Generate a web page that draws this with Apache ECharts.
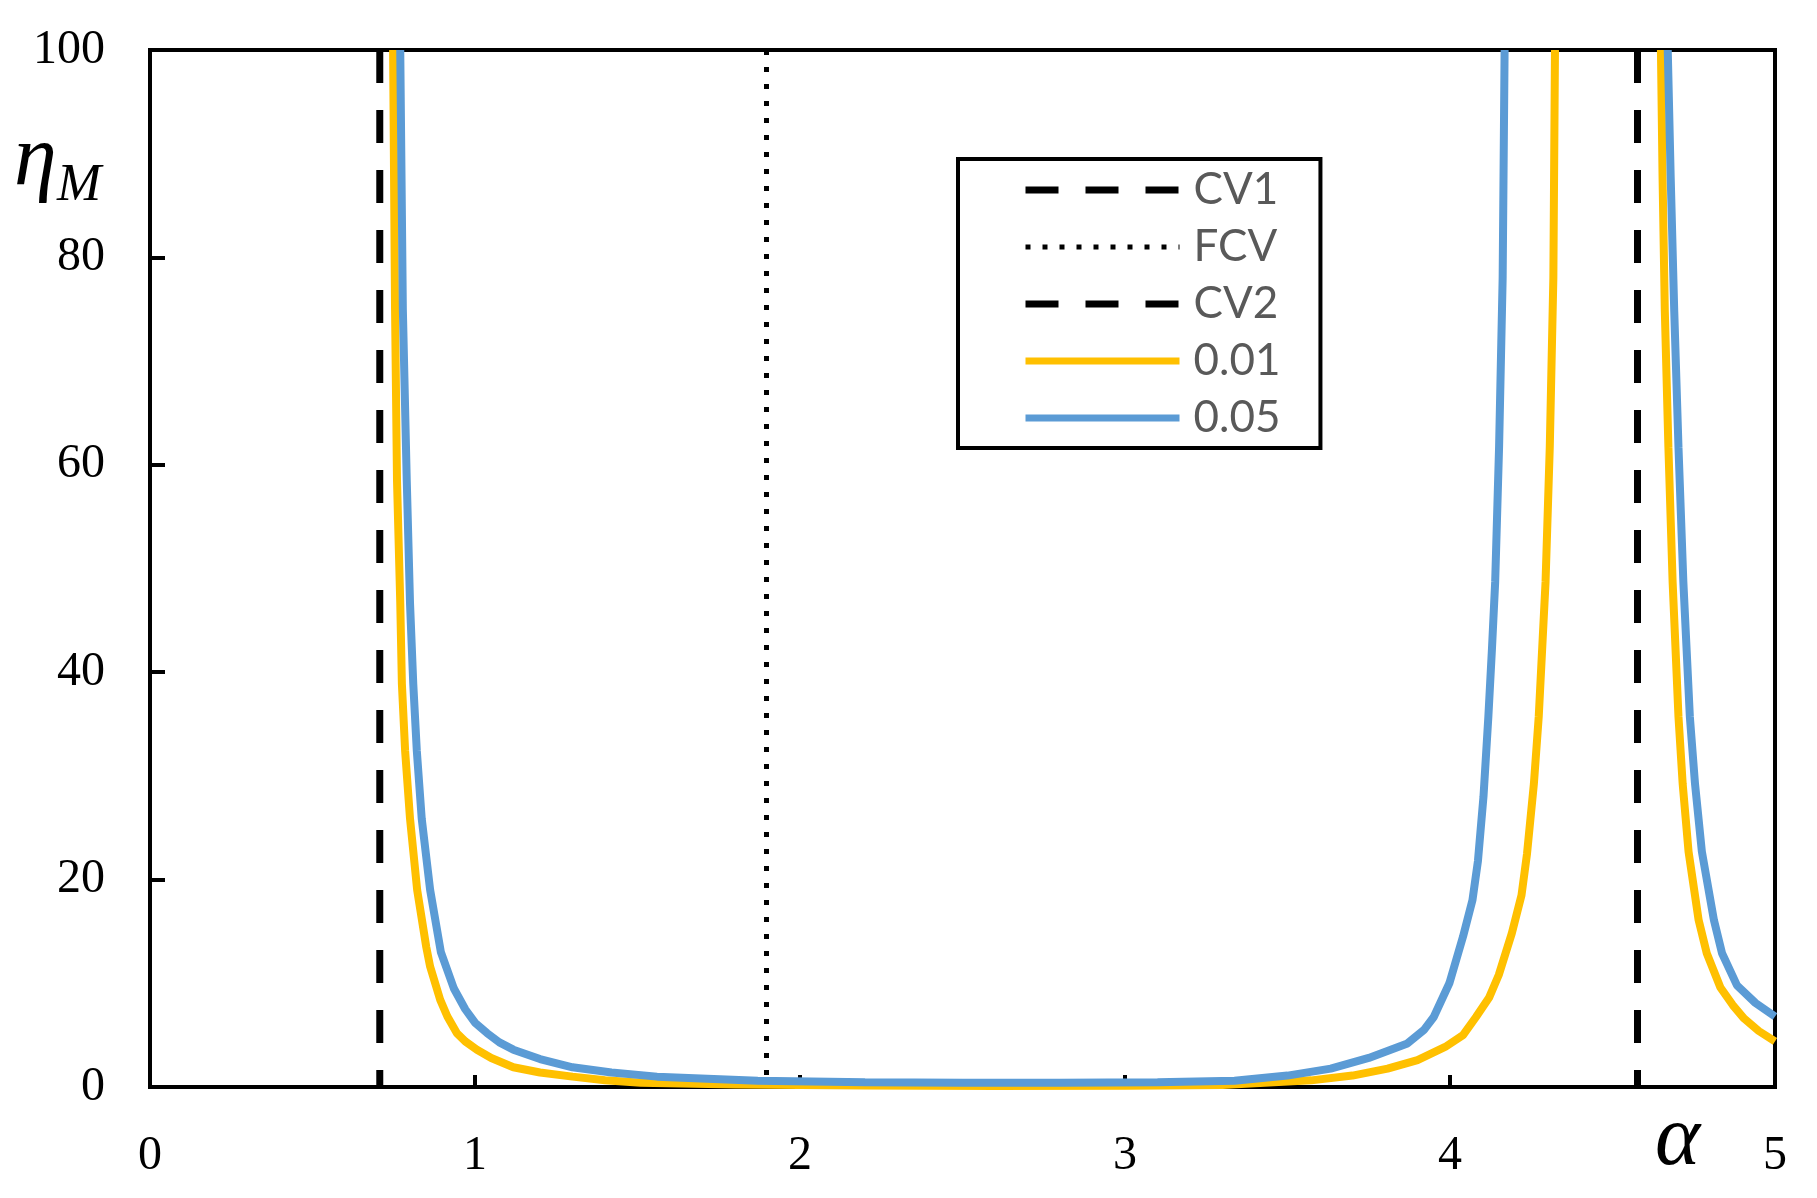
<!DOCTYPE html>
<html>
<head>
<meta charset="utf-8">
<script src="https://cdn.jsdelivr.net/npm/echarts@6/dist/echarts.min.js"></script>
<style>
  html, body { margin: 0; padding: 0; background: #fff; }
  #main { width: 1817px; height: 1198px; }
</style>
</head>
<body>
<div id="main"></div>
<script>
// critical values of alpha (vertical reference lines)
var cv1 = 0.707;
var fcv = 1.897;
var cv2 = 4.577;

// eta_M for 0.01, null breaks the curve at the pole
var eta001 = [
  [0.748, 100], [0.754, 75], [0.760, 58.5], [0.770, 46.7], [0.775, 38.9],
  [0.785, 32.4], [0.800, 25.9], [0.822, 19], [0.850, 13.5], [0.862, 11.6],
  [0.893, 8.4], [0.915, 6.8], [0.944, 5.2], [0.97, 4.4], [1.006, 3.6],
  [1.05, 2.8], [1.118, 1.9], [1.2, 1.4], [1.30, 1.0], [1.4, 0.65],
  [1.51, 0.4], [1.8, 0.25], [2.2, 0.15], [2.6, 0.1], [3.0, 0.12],
  [3.3, 0.2], [3.573, 0.64], [3.7, 1.1], [3.808, 1.77], [3.9, 2.6],
  [3.985, 3.86], [4.04, 5.0], [4.08, 6.75], [4.12, 8.6], [4.15, 10.8],
  [4.19, 14.8], [4.22, 18.5], [4.237, 22.5], [4.258, 29.2],
  [4.273, 35.7], [4.294, 48.7], [4.307, 61.7], [4.318, 78], [4.323, 100],
  [4.5, null],
  [4.649, 100], [4.654, 87.8], [4.661, 74.8], [4.672, 61.7], [4.685, 48.7],
  [4.703, 35.7], [4.716, 29.2], [4.734, 22.7], [4.765, 16.1], [4.79, 12.9],
  [4.832, 9.6], [4.87, 7.9], [4.905, 6.6], [4.95, 5.4], [5.0, 4.4]
];

// eta_M for 0.05
var eta005 = [
  [0.770, 100], [0.778, 75], [0.790, 58.5], [0.800, 46.7], [0.810, 38.9],
  [0.821, 32.4], [0.836, 25.9], [0.862, 19], [0.895, 13], [0.935, 9.5],
  [0.970, 7.5], [1.0, 6.2], [1.037, 5.2], [1.075, 4.3], [1.118, 3.6],
  [1.2, 2.7], [1.30, 1.9], [1.42, 1.4], [1.56, 1.0],
  [1.87, 0.6], [2.2, 0.45], [2.5, 0.4], [2.8, 0.4], [3.1, 0.45],
  [3.337, 0.6], [3.5, 1.1], [3.633, 1.77], [3.75, 2.8], [3.869, 4.2],
  [3.92, 5.5], [3.95, 6.75], [3.998, 10.0], [4.04, 14.5], [4.069, 18],
  [4.086, 21.8], [4.103, 28], [4.118, 35.7], [4.129, 42.2], [4.139, 48.7],
  [4.151, 61.7], [4.162, 78], [4.168, 100],
  [4.4, null],
  [4.670, 100], [4.679, 87.8], [4.690, 74.8], [4.703, 61.7], [4.718, 48.7],
  [4.738, 35.7], [4.754, 29.2], [4.775, 22.7], [4.812, 16.1], [4.837, 12.9],
  [4.883, 9.8], [4.94, 8.1], [5.0, 6.8]
];

var legendNames = ['CV1', 'FCV', 'CV2', '0.01', '0.05'];
var legendWidths = [7, 5, 7, 7, 7];
var xTicks = [0, 1, 2, 3, 4, 5];
var yTicks = [0, 20, 40, 60, 80, 100];

var serif = '"Liberation Serif", "DejaVu Serif", serif';

function vline(name, x, dash, width) {
  return {
    name: name,
    type: 'line',
    data: [[x, 100], [x, 0]],
    symbol: 'none',
    lineStyle: { color: '#000', width: width, type: dash },
    z: 2
  };
}

function curve(name, data, color, z) {
  return {
    name: name,
    type: 'line',
    data: data,
    symbol: 'none',
    showSymbol: false,
    connectNulls: false,
    color: color,
    lineStyle: { color: color, width: 8 },
    z: z
  };
}

var chart = echarts.init(document.getElementById('main'));
chart.setOption({
  backgroundColor: '#fff',
  animation: false,
  grid: {
    left: 150, right: 42, top: 50, bottom: 111,
    show: true, borderColor: '#000', borderWidth: 4
  },
  xAxis: {
    type: 'value',
    min: xTicks[0], max: xTicks[xTicks.length - 1], interval: 1,
    axisLine: { lineStyle: { color: '#000', width: 4 } },
    axisTick: { inside: true, length: 12, lineStyle: { color: '#000', width: 4 } },
    axisLabel: { margin: 45, color: '#000', fontFamily: serif, fontSize: 48 },
    splitLine: { show: false }
  },
  yAxis: {
    type: 'value',
    min: yTicks[0], max: yTicks[yTicks.length - 1], interval: 20,
    axisLine: { lineStyle: { color: '#000', width: 4 } },
    axisTick: { inside: true, length: 15, lineStyle: { color: '#000', width: 4 } },
    axisLabel: { margin: 45, color: '#000', fontFamily: serif, fontSize: 48 },
    splitLine: { show: false }
  },
  legend: {
    data: legendNames.map(function (n, i) {
      return { name: n, lineStyle: { width: legendWidths[i] } };
    }),
    orient: 'vertical',
    left: 958, top: 159,
    padding: [6, 40, 5, 64],
    itemWidth: 154, itemHeight: 14, itemGap: 7,
    itemStyle: { opacity: 0 },
    backgroundColor: '#fff',
    borderColor: '#000', borderWidth: 4, borderRadius: 0,
    textStyle: {
      fontFamily: 'Lato, "Open Sans", sans-serif', fontSize: 44,
      color: '#595959', lineHeight: 50, padding: [0, 0, 0, 9]
    }
  },
  graphic: [
    { type: 'text', left: 14, top: 118,
      style: { text: 'η', font: 'italic 86px ' + serif, fill: '#000' } },
    { type: 'text', left: 57, top: 160,
      style: { text: 'M', font: 'italic 53px ' + serif, fill: '#000' } },
    { type: 'text', left: 1655, top: 1098,
      style: { text: 'α', font: 'italic 86px ' + serif, fill: '#000' } }
  ],
  series: [
    vline('CV1', cv1, [33, 27], 7),
    vline('FCV', fcv, [5, 12], 5),
    vline('CV2', cv2, [33, 27], 7),
    curve('0.01', eta001, '#FFC000', 3),
    curve('0.05', eta005, '#5B9BD5', 4)
  ]
});
</script>
</body>
</html>
